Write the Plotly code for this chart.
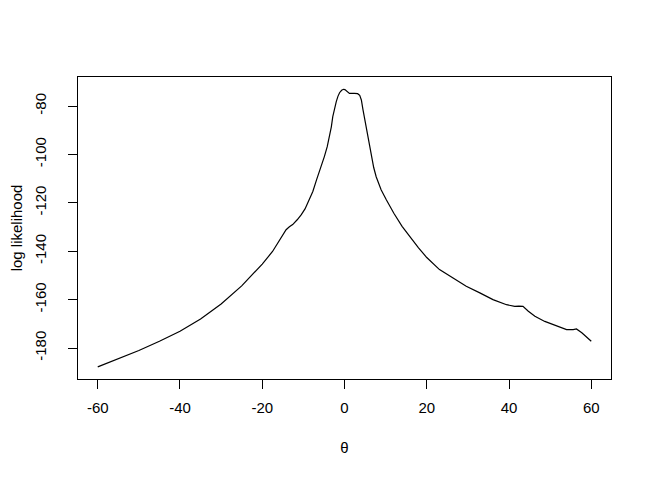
import plotly.graph_objects as go

theta = [-60, -55, -50, -45, -40, -35, -30, -25, -20, -17.5, -15.4, -14.2,
         -13.4, -12.6, -11.5, -10.5, -9.6, -8.9, -7.7, -6.8, -5.8, -4.9, -4.2, -3.65,
         -3.2, -2.85, -2.4, -2.0, -1.6, -1.2, -0.7, -0.24, 0.1, 0.6, 1.2, 2.4, 3.2, 3.7,
         4.1, 4.5, 5.1, 5.7, 6.5, 7.1, 7.7, 8.3, 8.9, 10.2, 12, 14, 16, 18, 20,
         23.1, 26.4, 29.6, 32.9, 36.1, 39.4, 41.4, 42.4, 43.4, 44.7, 46.3, 48.7, 51.6,
         54.0, 55.6, 56.4, 57.7, 60]
loglik = [-187.8, -184.5, -181.0, -177.2, -173.1, -168.0, -161.8, -154.3, -145.3, -140.1,
          -134.6, -131.1, -129.9, -129.0, -127.0, -124.9, -122.5, -120.0, -115.3, -110.5,
          -105.6, -100.9, -96.8, -92.7, -88.6, -84.4, -80.8, -78.2, -76.0, -74.5, -73.5,
          -73.1, -73.2, -74.1, -74.8, -74.8, -74.9, -75.6, -77.5, -81.6, -87.1, -94.0,
          -100.9, -105.4, -109.2, -112.2, -114.6, -118.8, -124.3, -129.7, -134.4, -138.6,
          -142.6, -147.6, -151.1, -154.5, -157.2, -160.0, -162.1, -162.8, -162.7, -162.8,
          -164.8, -166.9, -169.0, -171.0, -172.4, -172.4, -172.1, -173.7, -177.2]

x_ticks = [-60, -40, -20, 0, 20, 40, 60]
y_ticks = [-180, -160, -140, -120, -100, -80]

font = dict(family="Liberation Sans, Arial, sans-serif", size=15, color="black")

fig = go.Figure(go.Scatter(x=theta, y=loglik, mode="lines",
                           line=dict(color="black", width=1.2),
                           showlegend=False, hoverinfo="skip"))

fig.update_layout(
    width=644, height=469,
    margin=dict(l=70, r=41, t=69, b=98),
    paper_bgcolor="white", plot_bgcolor="white",
    font=font,
)
fig.update_xaxes(range=[-64.8, 64.8], tickvals=x_ticks, ticktext=[str(v) for v in x_ticks],
                 showgrid=False, zeroline=False, showline=True, linecolor="black", linewidth=1,
                 mirror=True, ticks="outside", ticklen=9, tickcolor="black", tickwidth=1,
                 ticklabelstandoff=6, automargin=False,
                 tickfont=font, title=dict(text="θ", font=font, standoff=27))
fig.update_yaxes(range=[-192.8, -68.0], tickvals=y_ticks, ticktext=[str(v) for v in y_ticks],
                 tickangle=-90, showgrid=False, zeroline=False, showline=True, linecolor="black",
                 linewidth=1, mirror=True, ticks="outside", ticklen=9, tickcolor="black",
                 tickwidth=1, tickfont=font, ticklabelstandoff=16, automargin=False,
                 title=dict(text="log likelihood", font=font, standoff=12))

fig.write_html("out.html")
